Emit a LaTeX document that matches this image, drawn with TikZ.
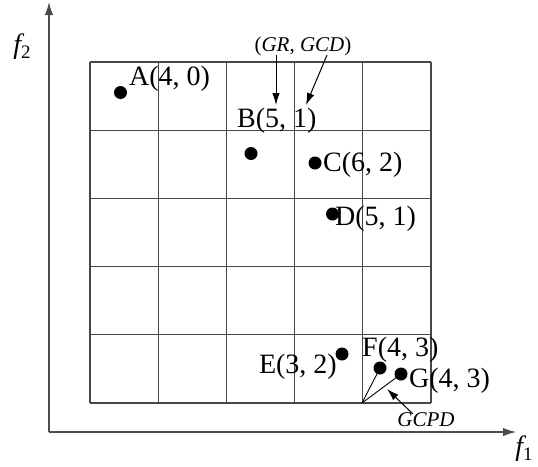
\documentclass[tikz,border=0pt]{standalone}
\usepackage{fontspec}
\setmainfont{Liberation Serif}
\usetikzlibrary{arrows.meta}
\newcommand{\lbl}{\fontsize{28}{30}\selectfont}
\newcommand{\sml}{\fontsize{21}{24}\selectfont}
\tikzset{
  gridline/.style={draw=black!72, line width=1.2pt},
  axis/.style={draw=black!70, line width=1.4pt, -{Latex[length=13pt,width=8.5pt]}},
  pt/.style={circle, fill=black, inner sep=0pt, minimum size=13pt},
  ptlabel/.style={anchor=base west, inner sep=0pt, font=\lbl},
  pointer/.style={draw=black, line width=1pt, -{Latex[length=12pt,width=7.5pt]}},
  thin/.style={draw=black, line width=0.9pt}
}
\begin{document}
\begin{tikzpicture}[x=1pt, y=-1pt]
\useasboundingbox (0,0) rectangle (538,466);

% 5 x 5 grid
\foreach \i in {0,...,5} {
  \draw[gridline] ({90+68.2*\i},62) -- ({90+68.2*\i},403);
  \draw[gridline] (90,{62+68.2*\i}) -- (431,{62+68.2*\i});
}

% axes
\coordinate (o) at (49,432);
\coordinate (ytop) at (49,2);
\coordinate (xend) at (516,432);
\draw[axis] (o) -- (ytop);
\draw[axis] (o) -- (xend);
\node (f2) at (22,47) {\fontsize{28}{30}\selectfont\itshape f\upshape\raisebox{-5pt}{\fontsize{19}{21}\selectfont 2}};
\node (f1) at (524,449) {\fontsize{28}{30}\selectfont\itshape f\upshape\raisebox{-5pt}{\fontsize{19}{21}\selectfont 1}};

% points
\node[pt] (A) at (120.5,92.5) {};
\node[pt] (B) at (251,153.5) {};
\node[pt] (C) at (315,163) {};
\node[pt] (D) at (332.5,214) {};
\node[pt] (E) at (342,354) {};
\node[pt] (F) at (380,368) {};
\node[pt] (G) at (401,374) {};

\node[ptlabel] (lA) at (129,85) {A(4, 0)};
\node[ptlabel] (lB) at (237,127) {B(5, 1)};
\node[ptlabel] (lC) at (323,171) {C(6, 2)};
\node[ptlabel] (lD) at (335,225) {D(5, 1)};
\node[ptlabel, anchor=base east] (lE) at (337,373) {E(3, 2)};
\node[ptlabel] (lF) at (362,356) {F(4, 3)};
\node[ptlabel] (lG) at (409,387) {G(4, 3)};

% (GR, GCD) annotation
\node[font=\sml, inner sep=0pt] (gr) at (303,46) {(\textit{GR}, \textit{GCD})};
\coordinate (gr1) at (276,55);
\coordinate (gr2) at (327,55);
\coordinate (gr1e) at (276,105);
\coordinate (gr2e) at (306,105);
\draw[pointer] (gr1) -- (gr1e);
\draw[pointer] (gr2) -- (gr2e);

% GCPD annotation
\coordinate (corner) at (362,403);
\draw[thin] (corner) -- (F.center);
\draw[thin] (corner) -- (G.center);
\node[font=\sml, inner sep=0pt, anchor=base] (gcpd) at (426,426) {\textit{GCPD}};
\coordinate (gp) at (413,414);
\coordinate (gpe) at (387,389);
\draw[pointer] (gp) -- (gpe);
\end{tikzpicture}
\end{document}
